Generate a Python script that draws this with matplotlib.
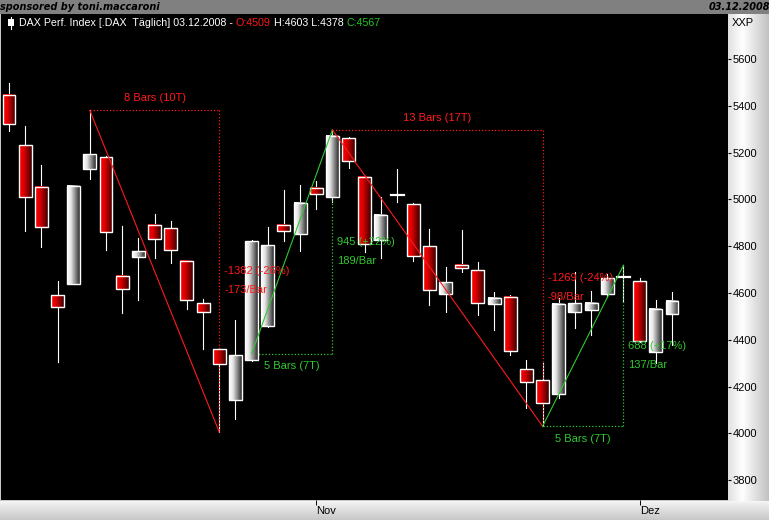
import numpy as np
import matplotlib
matplotlib.use("Agg")
import matplotlib.pyplot as plt
from matplotlib.patches import Rectangle

plt.rcParams['font.family'] = ['Liberation Sans', 'DejaVu Sans']

W, H = 769, 520

# DAX daily candles, 2008-10-06 .. 2008-12-03
opens = [5446, 5232, 5053, 4591, 4638, 5130, 5181, 4673, 4754, 4891,
         4878, 4737, 4557, 4361, 4143, 4314, 4459, 4891, 4852, 5049,
         5010, 5262, 5096, 4826, 5015, 4980, 4801, 4596, 4720, 4698,
         4553, 4583, 4275, 4228, 4168, 4519, 4527, 4596, 4662, 4651,
         4348, 4509]
highs = [5497, 5314, 5147, 4651, 5057, 5380, 5185, 4886, 4835, 4938,
         4908, 4740, 4574, 4365, 4485, 4825, 4882, 5040, 5062, 5079,
         5297, 5267, 5100, 5010, 5130, 4985, 4874, 4711, 4869, 4732,
         4604, 4590, 4314, 4301, 4579, 4690, 4609, 4681, 4718, 4664,
         4570, 4603]
lows = [5292, 4865, 4797, 4305, 4638, 5087, 4784, 4515, 4570, 4750,
        4728, 4532, 4361, 4006, 4062, 4310, 4455, 4822, 4779, 4959,
        4989, 5134, 4775, 4750, 4989, 4737, 4549, 4519, 4690, 4506,
        4442, 4335, 4109, 4030, 4151, 4450, 4420, 4583, 4562, 4390,
        4301, 4378]
closes = [5322, 5010, 4882, 4540, 5057, 5194, 4861, 4617, 4779, 4831,
          4784, 4570, 4519, 4297, 4335, 4822, 4805, 4865, 4985, 5023,
          5271, 5164, 4809, 4933, 5020, 4758, 4613, 4647, 4707, 4557,
          4579, 4352, 4220, 4130, 4553, 4557, 4557, 4664, 4666, 4395,
          4532, 4567]

month_pos = [19, 39]
month_names = ['Nov', 'Dez']
price_ticks = [3800, 4000, 4200, 4400, 4600, 4800, 5000, 5200, 5400, 5600]

# measuring tool: bar/price of start and end
meas_start = [5, 15, 20, 33]
meas_from = [5380, 4339, 5297, 4030]
meas_end = [13, 20, 33, 38]
meas_to = [4006, 5297, 4030, 4718]
meas_move = ['-1382 (-26%)', '945 (+22%)', '-1269 (-24%)', '688 (+17%)']
meas_perbar = ['-173/Bar', '189/Bar', '-98/Bar', '137/Bar']
meas_bars = ['8 Bars (10T)', '5 Bars (7T)', '13 Bars (17T)', '5 Bars (7T)']

RED = '#ff1a1a'
GREEN = '#30c830'

fig = plt.figure(figsize=(W / 100, H / 100), dpi=100, facecolor='#c8c8c8')

# background: header strip, right price panel, bottom date panel
bg = fig.add_axes([0, 0, 1, 1])
bg.set_xlim(0, W)
bg.set_ylim(H, 0)
bg.axis('off')
bg.add_patch(Rectangle((0, 0), W, 14, color='#808080', lw=0))
t = np.linspace(0, 1, 64)
ramp = np.interp(t, [0, 0.35, 1], [0.88, 1.0, 0.76])
bg.imshow(np.repeat(ramp[None, :, None], 3, axis=2), extent=[728, W, 501, 14],
          aspect='auto', interpolation='bilinear')
ramp2 = np.interp(t, [0, 0.1, 1], [0.97, 0.94, 0.78])
bg.imshow(np.repeat(ramp2[:, None, None], 3, axis=2), extent=[0, W, H, 501],
          aspect='auto', interpolation='bilinear')
bg.text(0, 7, 'sponsored by toni.maccaroni', fontsize=7, fontweight='bold',
        fontstyle='italic', family='DejaVu Sans', va='center', ha='left', color='black')
bg.text(W + 1, 7, '03.12.2008', fontsize=7, fontweight='bold',
        fontstyle='italic', family='DejaVu Sans', va='center', ha='right', color='black')
bg.set_xlim(0, W)
bg.set_ylim(H, 0)

# main chart
ax = fig.add_axes([1 / W, 20 / H, 727 / W, 486 / H], facecolor='black')
step = 16.17
xlo, xhi = -8 / step, 719 / step
ylo, yhi = 3715, 5792

g = np.linspace(0, 1, 32)
red_grad = np.zeros((1, 32, 3))
red_grad[0, :, 0] = np.interp(g, [0, 0.35, 1], [1.0, 0.88, 0.25])
white_grad = np.repeat(np.interp(g, [0, 0.3, 1], [1.0, 0.9, 0.18])[None, :, None], 3, axis=2)

bw = 0.8
for i, (o, h, l, c) in enumerate(zip(opens, highs, lows, closes)):
    ax.plot([i, i], [l, h], color='white', lw=0.8, zorder=2)
    top, bot = max(o, c), min(o, c)
    if top - bot < 8:
        ax.plot([i - bw / 2, i + bw / 2], [c, c], color='white', lw=1.6, zorder=4)
        continue
    grad = red_grad if c < o else white_grad
    ax.imshow(grad, extent=[i - bw / 2, i + bw / 2, bot, top], aspect='auto',
              interpolation='bilinear', zorder=4)
    ax.add_patch(Rectangle((i - bw / 2, bot), bw, top - bot, fill=False,
                           ec='white', lw=1.0, zorder=4.5))

for s, p0, e, p1, mv, pb, nb in zip(meas_start, meas_from, meas_end, meas_to,
                                    meas_move, meas_perbar, meas_bars):
    col = GREEN if p1 > p0 else RED
    ax.plot([s, e], [p0, p0], color=col, lw=0.9, ls=(0, (1, 1.6)), zorder=3)
    ax.plot([e, e], [p0, p1], color=col, lw=0.9, ls=(0, (1, 1.6)), zorder=3)
    ax.plot([s, e], [p0, p1], color=col, lw=0.8, zorder=6)
    mid = (p0 + p1) / 2
    ax.annotate(mv, (e, mid), xytext=(3.6, 0), textcoords='offset points',
                color=col, fontsize=8, va='center', ha='left', zorder=5)
    ax.annotate(pb, (e, mid), xytext=(3.6, -13.7), textcoords='offset points',
                color=col, fontsize=8, va='center', ha='left', zorder=5)
    dy = -9 if p1 > p0 else 8.6
    ax.annotate(nb, ((s + e) / 2, p0), xytext=(0, dy), textcoords='offset points',
                color=col, fontsize=8, va='center', ha='center', zorder=5)

ax.set_xlim(xlo, xhi)
ax.set_ylim(ylo, yhi)
for sp in ax.spines.values():
    sp.set_visible(False)
ax.yaxis.tick_right()
ax.set_yticks(price_ticks)
ax.set_yticklabels([str(v) for v in price_ticks])
ax.tick_params(axis='y', length=2.5, width=0.8, pad=0.8, labelsize=8, colors='black')
ax.set_xticks(month_pos)
ax.set_xticklabels(month_names)
ax.tick_params(axis='x', length=3.5, width=0.7, pad=0.5, labelsize=8, colors='black')
for lab in ax.get_xticklabels():
    lab.set_horizontalalignment('left')

# legend line inside the chart
ov = fig.add_axes([0, 0, 1, 1])
ov.set_xlim(0, W)
ov.set_ylim(H, 0)
ov.axis('off')
ov.plot([11, 11], [17, 29], color='white', lw=0.8)
ov.add_patch(Rectangle((8, 19), 6, 7, color='white', lw=0))
parts = [('DAX Perf. Index [.DAX  Täglich] 03.12.2008 - ', 'white'),
         ('O:4509', '#ff1a1a'), (' H:4603 L:4378 ', 'white'), ('C:4567', '#22c422')]
prev = ov.text(19, 22.5, parts[0][0], color=parts[0][1], fontsize=7.65, va='center', ha='left')
for txt, col in parts[1:]:
    prev = ov.annotate(txt, xy=(1, 0.5), xycoords=prev, color=col, fontsize=7.65,
                       va='center', ha='left')
ov.text(732, 22.5, 'XXP', fontsize=8, color='black', va='center', ha='left')

fig.savefig('out.png', dpi=100, facecolor=fig.get_facecolor())
